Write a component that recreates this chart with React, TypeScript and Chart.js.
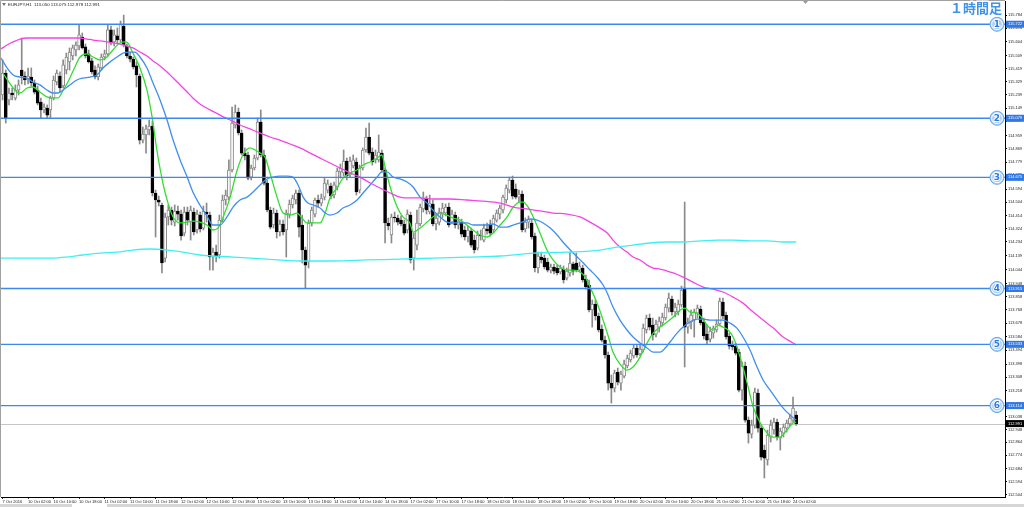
import React, { useEffect, useRef } from "react";
import { Chart, registerables } from "chart.js";

Chart.register(...registerables);

const symbolHeader = "EURJPY,H1  113.050 113.075 112.978 112.991";
const chartTitle = "１時間足";
const lastPrice = 112.991;

const timeTickIndex = [0, 8, 16, 24, 32, 40, 48, 56, 64, 72, 80, 88, 96, 104, 112, 120, 128, 136, 144, 152, 160, 168, 176, 184, 192, 200, 208, 216, 224, 232, 240, 248];
const timeLabels = [
  "7 Oct 2016", "10 Oct 02:00", "10 Oct 10:00", "10 Oct 18:00", "11 Oct 02:00", "11 Oct 10:00", "11 Oct 18:00",
  "12 Oct 02:00", "12 Oct 10:00", "12 Oct 18:00", "13 Oct 02:00", "13 Oct 10:00", "13 Oct 18:00", "14 Oct 02:00",
  "14 Oct 10:00", "14 Oct 18:00", "17 Oct 02:00", "17 Oct 10:00", "17 Oct 18:00", "18 Oct 02:00", "18 Oct 10:00",
  "18 Oct 18:00", "19 Oct 02:00", "19 Oct 10:00", "19 Oct 18:00", "20 Oct 02:00", "20 Oct 10:00", "20 Oct 18:00",
  "21 Oct 02:00", "21 Oct 10:00", "21 Oct 18:00", "24 Oct 02:00",
];

const priceTicks = [
  115.784, 115.694, 115.604, 115.509, 115.419, 115.329, 115.239, 115.149, 115.059, 114.959,
  114.869, 114.779, 114.689, 114.594, 114.504, 114.414, 114.324, 114.234, 114.139, 114.044,
  113.948, 113.858, 113.768, 113.678, 113.584, 113.494, 113.398, 113.308, 113.218, 113.128,
  113.038, 112.948, 112.864, 112.774, 112.684, 112.594, 112.504,
];

const levelPrices = [115.722, 115.079, 114.675, 113.915, 113.533, 113.114];
const levelMarks = ["1", "2", "3", "4", "5", "6"];

const opens = [
  115.238, 115.388, 115.204, 115.251, 115.217, 115.272, 115.409, 115.368, 115.341, 115.361,
  115.320, 115.272, 115.190, 115.136, 115.149, 115.136, 115.217, 115.327, 115.368, 115.300,
  115.409, 115.464, 115.505, 115.546, 115.573, 115.635, 115.567, 115.519, 115.471, 115.409,
  115.361, 115.423, 115.498, 115.519, 115.683, 115.601, 115.642, 115.614, 115.710, 115.573,
  115.505, 115.484, 115.437, 115.368, 114.930, 114.965, 114.999, 115.026, 114.568, 114.520,
  114.486, 114.123, 114.404, 114.452, 114.369, 114.445, 114.424, 114.294, 114.438, 114.369,
  114.438, 114.315, 114.417, 114.328, 114.438, 114.417, 114.130, 114.164, 114.144, 114.383,
  114.520, 114.540, 114.725, 115.033, 115.122, 114.978, 114.841, 114.828, 114.677, 114.739,
  114.807, 115.053, 114.828, 114.636, 114.452, 114.349, 114.431, 114.301, 114.356, 114.315,
  114.424, 114.486, 114.520, 114.568, 114.349, 114.178, 114.096, 114.363, 114.424, 114.520,
  114.499, 114.540, 114.588, 114.616, 114.554, 114.609, 114.712, 114.705, 114.787, 114.691,
  114.753, 114.780, 114.588, 114.739, 114.862, 114.951, 114.848, 114.794, 114.794, 114.841,
  114.725, 114.363, 114.281, 114.404, 114.397, 114.383, 114.356, 114.315, 114.417, 114.123,
  114.212, 114.356, 114.459, 114.527, 114.438, 114.493, 114.356, 114.369, 114.431, 114.431,
  114.472, 114.369, 114.417, 114.349, 114.369, 114.315, 114.267, 114.308, 114.246, 114.191,
  114.281, 114.246, 114.322, 114.356, 114.315, 114.383, 114.424, 114.452, 114.520, 114.588,
  114.657, 114.595, 114.540, 114.561, 114.322, 114.369, 114.363, 114.274, 114.055, 114.130,
  114.123, 114.096, 114.041, 114.062, 114.055, 114.028, 114.048, 113.986, 114.021, 114.082,
  114.089, 114.041, 114.055, 113.980, 113.939, 113.768, 113.809, 113.727, 113.638, 113.562,
  113.460, 113.268, 113.234, 113.344, 113.268, 113.316, 113.385, 113.426, 113.453, 113.508,
  113.467, 113.494, 113.631, 113.713, 113.665, 113.603, 113.651, 113.679, 113.713, 113.781,
  113.843, 113.754, 113.754, 113.802, 113.918, 113.651, 113.686, 113.699, 113.747, 113.774,
  113.686, 113.603, 113.569, 113.610, 113.631, 113.672, 113.822, 113.733, 113.590, 113.528,
  113.521, 113.480, 113.220, 113.385, 113.015, 112.919, 112.981, 113.200, 112.960, 112.810,
  112.742, 112.899, 112.947, 113.001, 112.892, 112.926, 112.960, 112.988, 113.015, 113.050,
];

const highs = [
  115.478, 115.409, 115.286, 115.286, 115.307, 115.341, 115.628, 115.396, 115.423, 115.423,
  115.341, 115.300, 115.217, 115.177, 115.170, 115.231, 115.368, 115.409, 115.396, 115.478,
  115.525, 115.560, 115.580, 115.601, 115.717, 115.662, 115.587, 115.546, 115.491, 115.437,
  115.450, 115.519, 115.546, 115.717, 115.710, 115.683, 115.697, 115.744, 115.785, 115.587,
  115.532, 115.498, 115.464, 115.382, 115.019, 115.033, 115.067, 115.060, 114.588, 114.547,
  114.499, 114.431, 114.486, 114.472, 114.486, 114.479, 114.452, 114.472, 114.472, 114.479,
  114.465, 114.452, 114.438, 114.479, 114.499, 114.438, 114.191, 114.212, 114.417, 114.554,
  114.588, 114.794, 115.156, 115.170, 115.149, 114.999, 114.876, 114.848, 114.759, 114.828,
  115.081, 115.136, 114.862, 114.657, 114.472, 114.465, 114.452, 114.383, 114.383, 114.452,
  114.520, 114.554, 114.588, 114.588, 114.417, 114.198, 114.383, 114.472, 114.534, 114.554,
  114.561, 114.670, 114.657, 114.636, 114.643, 114.739, 114.766, 114.862, 114.807, 114.814,
  114.828, 114.807, 114.759, 114.876, 115.012, 115.046, 114.876, 114.862, 114.965, 114.862,
  114.739, 114.397, 114.424, 114.438, 114.417, 114.411, 114.383, 114.452, 114.438, 114.294,
  114.452, 114.493, 114.575, 114.547, 114.554, 114.520, 114.424, 114.465, 114.499, 114.493,
  114.499, 114.452, 114.438, 114.404, 114.390, 114.342, 114.342, 114.328, 114.281, 114.308,
  114.315, 114.356, 114.363, 114.383, 114.417, 114.452, 114.486, 114.554, 114.623, 114.677,
  114.684, 114.630, 114.588, 114.582, 114.397, 114.411, 114.383, 114.294, 114.164, 114.164,
  114.144, 114.123, 114.082, 114.082, 114.075, 114.075, 114.069, 114.055, 114.164, 114.096,
  114.157, 114.096, 114.075, 114.007, 113.973, 113.836, 113.836, 113.747, 113.665, 113.590,
  113.480, 113.323, 113.357, 113.371, 113.350, 113.426, 113.460, 113.494, 113.528, 113.528,
  113.528, 113.672, 113.733, 113.740, 113.713, 113.699, 113.720, 113.747, 113.809, 113.884,
  113.863, 113.815, 113.836, 113.932, 114.506, 113.713, 113.768, 113.774, 113.802, 113.795,
  113.713, 113.665, 113.651, 113.658, 113.699, 113.850, 113.850, 113.754, 113.610, 113.556,
  113.542, 113.501, 113.412, 113.412, 113.036, 113.015, 113.234, 113.227, 112.981, 112.844,
  112.947, 113.015, 113.029, 113.022, 112.960, 112.988, 113.015, 113.056, 113.172, 113.075,
];

const lows = [
  115.204, 115.046, 115.170, 115.204, 115.204, 115.238, 115.314, 115.307, 115.314, 115.300,
  115.245, 115.170, 115.081, 115.115, 115.081, 115.081, 115.204, 115.307, 115.258, 115.286,
  115.382, 115.409, 115.478, 115.505, 115.546, 115.553, 115.491, 115.457, 115.382, 115.348,
  115.341, 115.409, 115.478, 115.505, 115.580, 115.573, 115.587, 115.601, 115.567, 115.491,
  115.464, 115.416, 115.293, 114.903, 114.910, 114.841, 114.965, 114.547, 114.267, 114.479,
  114.021, 114.096, 114.349, 114.349, 114.342, 114.383, 114.246, 114.274, 114.349, 114.246,
  114.281, 114.294, 114.301, 114.315, 114.369, 114.041, 114.041, 114.096, 114.123, 114.369,
  114.486, 114.520, 114.712, 115.012, 114.965, 114.828, 114.794, 114.657, 114.657, 114.725,
  114.794, 114.814, 114.623, 114.438, 114.322, 114.328, 114.260, 114.274, 114.281, 114.130,
  114.397, 114.465, 114.493, 114.267, 114.089, 113.918, 114.055, 114.342, 114.404, 114.472,
  114.479, 114.520, 114.568, 114.527, 114.534, 114.588, 114.670, 114.684, 114.657, 114.677,
  114.739, 114.554, 114.568, 114.725, 114.848, 114.828, 114.759, 114.773, 114.780, 114.712,
  114.226, 114.315, 114.226, 114.369, 114.349, 114.342, 114.281, 114.294, 114.089, 114.041,
  114.178, 114.342, 114.438, 114.424, 114.424, 114.342, 114.315, 114.349, 114.397, 114.411,
  114.335, 114.356, 114.328, 114.322, 114.267, 114.246, 114.233, 114.198, 114.157, 114.178,
  114.246, 114.233, 114.287, 114.274, 114.294, 114.369, 114.390, 114.431, 114.499, 114.568,
  114.527, 114.527, 114.506, 114.301, 114.301, 114.328, 114.253, 114.028, 114.021, 114.089,
  114.048, 114.028, 114.021, 114.014, 114.007, 114.014, 113.952, 113.973, 114.000, 114.007,
  114.028, 114.028, 113.959, 113.911, 113.754, 113.651, 113.699, 113.617, 113.549, 113.439,
  113.220, 113.131, 113.207, 113.255, 113.220, 113.303, 113.371, 113.412, 113.439, 113.446,
  113.453, 113.480, 113.610, 113.631, 113.562, 113.583, 113.617, 113.658, 113.699, 113.754,
  113.733, 113.720, 113.733, 113.788, 113.378, 113.610, 113.638, 113.583, 113.713, 113.665,
  113.569, 113.535, 113.549, 113.576, 113.617, 113.658, 113.706, 113.569, 113.501, 113.494,
  113.460, 113.207, 113.152, 113.001, 112.858, 112.892, 112.960, 112.933, 112.742, 112.619,
  112.707, 112.865, 112.919, 112.878, 112.810, 112.899, 112.933, 112.974, 113.001, 112.978,
];

const closes = [
  115.388, 115.081, 115.251, 115.238, 115.272, 115.307, 115.368, 115.341, 115.368, 115.320,
  115.258, 115.183, 115.136, 115.156, 115.101, 115.217, 115.341, 115.388, 115.286, 115.444,
  115.498, 115.532, 115.560, 115.580, 115.649, 115.560, 115.505, 115.464, 115.396, 115.361,
  115.430, 115.498, 115.519, 115.683, 115.594, 115.649, 115.614, 115.724, 115.580, 115.505,
  115.484, 115.430, 115.375, 114.930, 114.971, 115.006, 115.026, 114.568, 114.520, 114.506,
  114.089, 114.404, 114.452, 114.383, 114.445, 114.424, 114.274, 114.438, 114.383, 114.452,
  114.301, 114.424, 114.322, 114.445, 114.424, 114.130, 114.164, 114.137, 114.383, 114.520,
  114.554, 114.725, 115.046, 115.122, 114.978, 114.841, 114.821, 114.670, 114.739, 114.807,
  115.053, 114.828, 114.636, 114.452, 114.335, 114.431, 114.301, 114.356, 114.301, 114.431,
  114.493, 114.534, 114.568, 114.335, 114.178, 114.075, 114.363, 114.452, 114.520, 114.499,
  114.534, 114.636, 114.630, 114.547, 114.623, 114.718, 114.739, 114.787, 114.684, 114.787,
  114.794, 114.575, 114.739, 114.862, 114.951, 114.841, 114.780, 114.828, 114.848, 114.725,
  114.363, 114.342, 114.404, 114.397, 114.369, 114.356, 114.294, 114.424, 114.110, 114.260,
  114.363, 114.472, 114.534, 114.452, 114.499, 114.356, 114.397, 114.438, 114.465, 114.472,
  114.349, 114.424, 114.349, 114.376, 114.287, 114.267, 114.315, 114.212, 114.178, 114.281,
  114.274, 114.328, 114.308, 114.294, 114.397, 114.431, 114.465, 114.540, 114.602, 114.657,
  114.547, 114.540, 114.561, 114.315, 114.369, 114.390, 114.267, 114.055, 114.137, 114.110,
  114.062, 114.041, 114.062, 114.034, 114.021, 114.055, 113.973, 114.034, 114.089, 114.034,
  114.041, 114.069, 113.973, 113.925, 113.768, 113.809, 113.727, 113.631, 113.562, 113.460,
  113.268, 113.234, 113.337, 113.275, 113.330, 113.398, 113.439, 113.473, 113.508, 113.460,
  113.501, 113.644, 113.713, 113.651, 113.597, 113.672, 113.692, 113.720, 113.788, 113.850,
  113.754, 113.788, 113.809, 113.904, 113.651, 113.686, 113.733, 113.754, 113.781, 113.679,
  113.590, 113.562, 113.624, 113.644, 113.672, 113.829, 113.727, 113.583, 113.521, 113.515,
  113.473, 113.220, 113.385, 113.015, 112.926, 112.981, 113.207, 112.960, 112.762, 112.755,
  112.912, 112.981, 113.001, 112.899, 112.940, 112.967, 112.994, 113.029, 113.097, 112.991,
];

// moving averages: [candle position, price]
const maFast: [number, number][] = [
  [0, 115.389], [4.5, 115.259], [5.5, 115.252], [7.7, 115.286], [9.5, 115.293], [11.7, 115.259], [13.9, 115.225],
  [15.8, 115.218], [17.4, 115.218], [19.0, 115.272], [20.5, 115.327], [22.7, 115.430], [24.3, 115.498], [26.5, 115.519],
  [28.4, 115.498], [30.6, 115.478], [32.8, 115.498], [34.6, 115.546], [36.8, 115.594], [38.4, 115.601], [39.3, 115.594],
  [40.9, 115.525], [43.1, 115.423], [45.3, 115.272], [46.9, 115.088], [48.4, 114.862], [50.3, 114.636], [51.9, 114.499],
  [53.5, 114.404], [55.7, 114.363], [57.9, 114.369], [59.7, 114.376], [61.9, 114.369], [64.1, 114.349], [66.0, 114.315],
  [67.6, 114.328], [69.2, 114.404], [71.4, 114.540], [73.6, 114.725], [75.4, 114.828], [77.6, 114.876], [79.2, 114.862],
  [80.8, 114.841], [82.3, 114.814], [83.9, 114.705], [86.1, 114.540], [88.0, 114.431], [90.2, 114.417], [92.4, 114.431],
  [93.9, 114.397], [95.5, 114.363], [97.4, 114.363], [99.6, 114.363], [101.2, 114.431], [102.7, 114.534], [104.9, 114.602],
  [106.8, 114.670], [109.0, 114.705], [111.2, 114.725], [113.1, 114.759], [115.3, 114.780], [117.5, 114.807], [119.0, 114.828],
  [120.0, 114.746], [121.6, 114.609], [123.8, 114.472], [125.6, 114.404], [127.8, 114.363], [128.8, 114.301], [131.0, 114.328],
  [133.2, 114.369], [135.0, 114.404], [137.2, 114.431], [139.4, 114.417], [141.3, 114.397], [143.5, 114.383], [145.7, 114.349],
  [147.6, 114.315], [149.8, 114.281], [152.0, 114.267], [153.9, 114.294], [156.1, 114.349], [158.3, 114.404], [160.2, 114.472],
  [162.4, 114.506], [163.3, 114.506], [164.9, 114.472], [166.5, 114.404], [168.6, 114.294], [170.8, 114.178], [172.7, 114.110],
  [174.9, 114.062], [177.1, 114.041], [179.0, 114.041], [181.2, 114.028], [182.8, 113.993], [184.3, 113.925], [186.5, 113.815],
  [188.4, 113.699], [190.0, 113.590], [191.5, 113.480], [193.7, 113.398], [195.9, 113.357], [197.8, 113.378], [200.0, 113.446],
  [202.2, 113.542], [204.1, 113.610], [206.3, 113.651], [208.5, 113.686], [210.4, 113.720], [212.6, 113.768], [214.1, 113.781],
  [215.7, 113.754], [217.9, 113.747], [219.5, 113.713], [221.0, 113.665], [222.9, 113.631], [224.5, 113.665], [226.0, 113.651],
  [227.6, 113.631], [229.2, 113.583], [231.4, 113.446], [233.6, 113.268], [235.5, 113.104], [237.7, 112.995], [239.9, 112.926],
  [241.8, 112.899], [243.9, 112.899], [246.1, 112.947], [248.0, 112.995], [249.0, 113.001],
];

const maMid: [number, number][] = [
  [-0.5, 115.491], [1.4, 115.423], [3.3, 115.375], [5.5, 115.361], [7.7, 115.354], [9.5, 115.327], [11.7, 115.307],
  [13.9, 115.272], [15.8, 115.252], [17.4, 115.252], [19.0, 115.272], [21.1, 115.307], [23.3, 115.341], [25.2, 115.354],
  [27.4, 115.361], [29.6, 115.375], [31.5, 115.423], [33.7, 115.464], [35.9, 115.498], [37.8, 115.525], [40.0, 115.532],
  [41.5, 115.532], [43.1, 115.498], [45.3, 115.423], [47.2, 115.320], [49.4, 115.204], [51.6, 115.067], [53.5, 114.930],
  [55.7, 114.794], [57.9, 114.677], [59.7, 114.575], [61.9, 114.486], [64.1, 114.411], [66.0, 114.349], [68.2, 114.349],
  [70.4, 114.404], [72.3, 114.472], [74.5, 114.520], [76.7, 114.540], [78.6, 114.575], [80.8, 114.623], [82.9, 114.664],
  [84.8, 114.677], [87.0, 114.684], [89.2, 114.684], [91.1, 114.677], [92.7, 114.623], [94.3, 114.540], [95.8, 114.499],
  [97.4, 114.486], [99.6, 114.465], [101.2, 114.431], [102.7, 114.417], [104.9, 114.431], [106.8, 114.465], [109.0, 114.486],
  [111.2, 114.520], [113.1, 114.568], [115.3, 114.623], [117.5, 114.677], [119.0, 114.712], [120.6, 114.712], [122.5, 114.677],
  [124.7, 114.664], [126.9, 114.643], [128.8, 114.609], [131.0, 114.540], [133.2, 114.499], [135.0, 114.452], [137.2, 114.404],
  [139.4, 114.369], [141.3, 114.363], [143.5, 114.363], [145.7, 114.363], [147.6, 114.349], [149.8, 114.349], [152.0, 114.349],
  [153.9, 114.356], [156.1, 114.335], [158.3, 114.335], [160.2, 114.349], [162.4, 114.363], [164.5, 114.383], [165.5, 114.390],
  [167.7, 114.383], [169.6, 114.363], [171.8, 114.328], [174.0, 114.281], [175.8, 114.233], [178.1, 114.178], [180.3, 114.130],
  [182.2, 114.089], [184.3, 114.041], [186.5, 113.993], [188.4, 113.939], [189.7, 113.884], [191.5, 113.788], [193.7, 113.699],
  [195.9, 113.631], [197.8, 113.583], [200.0, 113.542], [202.2, 113.508], [204.1, 113.480], [206.3, 113.480], [207.9, 113.508],
  [209.4, 113.549], [211.6, 113.610], [213.5, 113.651], [215.7, 113.686], [217.9, 113.706], [219.8, 113.706], [222.0, 113.699],
  [224.2, 113.699], [226.0, 113.699], [228.2, 113.679], [230.4, 113.644], [232.3, 113.583], [234.5, 113.494], [236.7, 113.378],
  [238.6, 113.289], [240.8, 113.220], [243.0, 113.152], [244.9, 113.097], [247.1, 113.049], [249.0, 113.015],
];

const maSlow: [number, number][] = [
  [-0.5, 115.553], [1.4, 115.580], [3.3, 115.601], [5.5, 115.621], [7.7, 115.628], [9.5, 115.628], [13.9, 115.628],
  [18.0, 115.628], [22.1, 115.628], [24.3, 115.628], [26.5, 115.621], [28.4, 115.614], [30.6, 115.608], [32.8, 115.601],
  [34.6, 115.594], [36.8, 115.587], [39.0, 115.573], [40.9, 115.560], [43.1, 115.532], [45.3, 115.505], [47.2, 115.471],
  [49.4, 115.437], [51.6, 115.396], [53.5, 115.354], [55.7, 115.307], [57.9, 115.259], [59.7, 115.218], [61.9, 115.177],
  [65.1, 115.136], [68.2, 115.101], [71.4, 115.067], [74.5, 115.033], [77.6, 115.006], [80.8, 114.978], [83.9, 114.951],
  [87.0, 114.930], [90.2, 114.903], [93.3, 114.876], [96.5, 114.841], [99.6, 114.807], [102.7, 114.773], [105.9, 114.739],
  [109.0, 114.705], [112.1, 114.677], [115.3, 114.636], [118.4, 114.602], [121.6, 114.568], [124.7, 114.540], [127.8, 114.534],
  [131.0, 114.534], [135.0, 114.527], [140.4, 114.527], [145.7, 114.520], [150.7, 114.513], [156.1, 114.499], [160.2, 114.472],
  [164.5, 114.459], [168.6, 114.445], [172.7, 114.431], [177.1, 114.424], [181.2, 114.404], [184.3, 114.369], [187.5, 114.328],
  [189.7, 114.294], [191.5, 114.246], [193.7, 114.198], [195.9, 114.164], [197.8, 114.130], [200.0, 114.110], [202.2, 114.075],
  [204.1, 114.055], [206.3, 114.048], [208.5, 114.034], [210.4, 114.021], [213.5, 113.993], [216.6, 113.959], [219.8, 113.925],
  [222.9, 113.911], [226.0, 113.891], [229.2, 113.856], [232.3, 113.815], [235.5, 113.754], [238.6, 113.699], [241.8, 113.644],
  [244.9, 113.583], [248.0, 113.542], [249.0, 113.528],
];

const maLong: [number, number][] = [
  [-0.5, 114.123], [15.8, 114.123], [20.2, 114.130], [25.2, 114.144], [30.6, 114.157], [35.9, 114.164], [40.9, 114.178],
  [46.2, 114.185], [51.6, 114.178], [56.6, 114.164], [61.9, 114.144], [72.3, 114.130], [82.9, 114.116], [93.3, 114.103],
  [103.7, 114.103], [114.3, 114.110], [124.7, 114.116], [135.0, 114.123], [145.7, 114.130], [156.1, 114.137], [166.5, 114.157],
  [177.1, 114.164], [187.5, 114.178], [192.8, 114.198], [197.8, 114.212], [203.1, 114.226], [208.5, 114.233], [213.5, 114.233],
  [218.8, 114.240], [224.2, 114.246], [229.2, 114.246], [234.5, 114.240], [239.9, 114.240], [244.9, 114.233], [249.0, 114.233],
];

const FONT = "'Liberation Sans', Arial, sans-serif";

const overlay = {
  id: "overlay",
  beforeDatasetsDraw(chart: any) {
    const { ctx, chartArea: a, scales } = chart;
    const yy = Math.round(scales.y.getPixelForValue(lastPrice)) + 0.5;
    ctx.save();
    ctx.strokeStyle = "#c6c6c6";
    ctx.lineWidth = 1;
    ctx.beginPath();
    ctx.moveTo(a.left, yy);
    ctx.lineTo(a.right, yy);
    ctx.stroke();
    ctx.restore();
  },
  afterDatasetsDraw(chart: any) {
    const { ctx, chartArea: a, scales } = chart;
    ctx.save();
    levelPrices.forEach((p) => {
      const yy = scales.y.getPixelForValue(p);
      ctx.strokeStyle = "#3c87f0";
      ctx.lineWidth = 1.4;
      ctx.beginPath();
      ctx.moveTo(a.left, yy);
      ctx.lineTo(a.right, yy);
      ctx.stroke();
    });
    levelPrices.forEach((p, k) => {
      const yy = scales.y.getPixelForValue(p);
      const cx = 997;
      ctx.beginPath();
      ctx.arc(cx, yy, 7, 0, Math.PI * 2);
      ctx.fillStyle = "#a9cff6";
      ctx.fill();
      ctx.lineWidth = 1;
      ctx.strokeStyle = "#6aa7ec";
      ctx.stroke();
      ctx.beginPath();
      ctx.arc(cx, yy, 5.4, 0, Math.PI * 2);
      ctx.strokeStyle = "#ffffff";
      ctx.stroke();
      ctx.font = `bold 9px 'DejaVu Sans', sans-serif`;
      ctx.textAlign = "center";
      ctx.textBaseline = "middle";
      ctx.lineJoin = "round";
      ctx.lineWidth = 2;
      ctx.strokeStyle = "#ffffff";
      ctx.strokeText(levelMarks[k], cx, yy + 0.5);
      ctx.fillStyle = "#2f7ae0";
      ctx.fillText(levelMarks[k], cx, yy + 0.5);
    });
    ctx.restore();
  },
  afterDraw(chart: any) {
    const { ctx, chartArea: a, scales } = chart;
    ctx.save();
    ctx.strokeStyle = "#a0a0a0";
    ctx.lineWidth = 1;
    ctx.beginPath();
    ctx.moveTo(0.5, a.bottom);
    ctx.lineTo(0.5, 0.5);
    ctx.lineTo(a.right, 0.5);
    ctx.stroke();

    ctx.font = `4px ${FONT}`;
    ctx.textAlign = "left";
    ctx.textBaseline = "middle";
    levelPrices.forEach((p) => {
      const yy = scales.y.getPixelForValue(p);
      ctx.fillStyle = "#2f78e6";
      ctx.fillRect(a.right + 1, yy - 3.5, 18, 7);
      ctx.fillStyle = "#ffffff";
      ctx.fillText(p.toFixed(3), a.right + 3, yy);
    });
    const ly = scales.y.getPixelForValue(lastPrice);
    ctx.fillStyle = "#000000";
    ctx.fillRect(a.right + 1, ly - 3.5, 18, 7);
    ctx.fillStyle = "#ffffff";
    ctx.fillText(lastPrice.toFixed(3), a.right + 3, ly);

    // header
    ctx.fillStyle = "#777";
    ctx.beginPath();
    ctx.moveTo(2, 3);
    ctx.lineTo(6, 3);
    ctx.lineTo(4, 6);
    ctx.closePath();
    ctx.fill();
    ctx.fillStyle = "#222";
    ctx.font = `4.4px ${FONT}`;
    ctx.fillText(symbolHeader, 8, 5);

    // shift marker
    ctx.fillStyle = "#9a9a9a";
    ctx.beginPath();
    ctx.moveTo(803, 1);
    ctx.lineTo(808, 1);
    ctx.lineTo(805.5, 4);
    ctx.closePath();
    ctx.fill();

    // title
    ctx.font = `bold 13px 'Noto Sans CJK JP', sans-serif`;
    ctx.textAlign = "right";
    ctx.textBaseline = "top";
    ctx.lineJoin = "round";
    ctx.lineWidth = 3;
    ctx.strokeStyle = "#ffffff";
    ctx.strokeText(chartTitle, 1002, 2);
    ctx.fillStyle = "#3f93ea";
    ctx.fillText(chartTitle, 1002, 2);

    // bottom strip
    ctx.fillStyle = "#d6d6d6";
    ctx.fillRect(0, 504, 1024, 3);
    ctx.fillStyle = "#ffffff";
    ctx.fillRect(72, 504, 35, 3);
    ctx.restore();
  },
};

export default function App() {
  const ref = useRef<HTMLCanvasElement>(null);

  useEffect(() => {
    const canvas = ref.current;
    if (!canvas) return;
    const bodies = closes.map((c, i) => ({ x: i, y: [opens[i], c] }));
    const wicks = closes.map((_, i) => ({ x: i, y: [lows[i], highs[i]] }));
    const bull = closes.map((c, i) => c >= opens[i]);
    const toXY = (arr: [number, number][]) => arr.map(([x, y]) => ({ x, y }));
    const lineDs = (arr: [number, number][], color: string) => ({
      type: "line" as const,
      data: toXY(arr),
      borderColor: color,
      borderWidth: 1.3,
      pointRadius: 0,
      fill: false,
      cubicInterpolationMode: "monotone" as const,
      order: 0,
    });

    const chart = new Chart(canvas, {
      type: "bar",
      data: {
        datasets: [
          lineDs(maLong, "#3ff0f0"),
          lineDs(maSlow, "#f445e2"),
          lineDs(maMid, "#3f8ef0"),
          lineDs(maFast, "#33dd33"),
          {
            type: "bar",
            data: bodies as any,
            backgroundColor: bull.map((b) => (b ? "#ffffff" : "#000000")),
            borderColor: bull.map((b) => (b ? "#8a8a8a" : "#000000")),
            borderWidth: 1,
            borderSkipped: false,
            barThickness: 3,
            grouped: false,
            minBarLength: 1,
            order: 1,
          } as any,
          {
            type: "bar",
            data: wicks as any,
            backgroundColor: "#8a8a8a",
            borderWidth: 0,
            barThickness: 1,
            grouped: false,
            order: 2,
          } as any,
        ],
      },
      options: {
        responsive: false,
        animation: false,
        devicePixelRatio: 1,
        events: [],
        layout: { padding: { top: 1, left: 1, right: 0, bottom: 0 } },
        plugins: { legend: { display: false }, tooltip: { enabled: false } },
        scales: {
          x: {
            type: "linear",
            min: -0.5,
            max: 314.5,
            offset: false,
            position: "bottom",
            afterBuildTicks: (s: any) => {
              s.ticks = timeTickIndex.map((v) => ({ value: v }));
            },
            afterFit: (s: any) => {
              s.height = 10;
              s.paddingLeft = 0;
              s.paddingRight = 0;
            },
            ticks: {
              autoSkip: false,
              maxRotation: 0,
              minRotation: 0,
              align: "start",
              padding: 0,
              color: "#222",
              font: { size: 4, family: FONT },
              callback: (_v: any, i: number) => timeLabels[i] ?? "",
            },
            grid: { drawOnChartArea: false, drawTicks: true, tickLength: 2, color: "#333", offset: false },
            border: { display: true, color: "#000" },
          },
          y: {
            type: "linear",
            position: "right",
            min: 112.489,
            max: 115.881,
            afterBuildTicks: (s: any) => {
              s.ticks = priceTicks.map((v) => ({ value: v }));
            },
            afterFit: (s: any) => {
              s.width = 19;
              s.paddingTop = 0;
              s.paddingBottom = 0;
            },
            ticks: {
              autoSkip: false,
              padding: 1,
              color: "#222",
              font: { size: 4, family: FONT },
              callback: (v: any) => Number(v).toFixed(3),
            },
            grid: { drawOnChartArea: false, drawTicks: true, tickLength: 2, color: "#000" },
            border: { display: true, color: "#000" },
          },
        },
      } as any,
      plugins: [overlay],
    });
    return () => chart.destroy();
  }, []);

  return (
    <div style={{ position: "absolute", left: 0, top: 0, width: 1024, height: 507, background: "#ffffff" }}>
      <canvas ref={ref} width={1024} height={507} style={{ display: "block" }} />
    </div>
  );
}
